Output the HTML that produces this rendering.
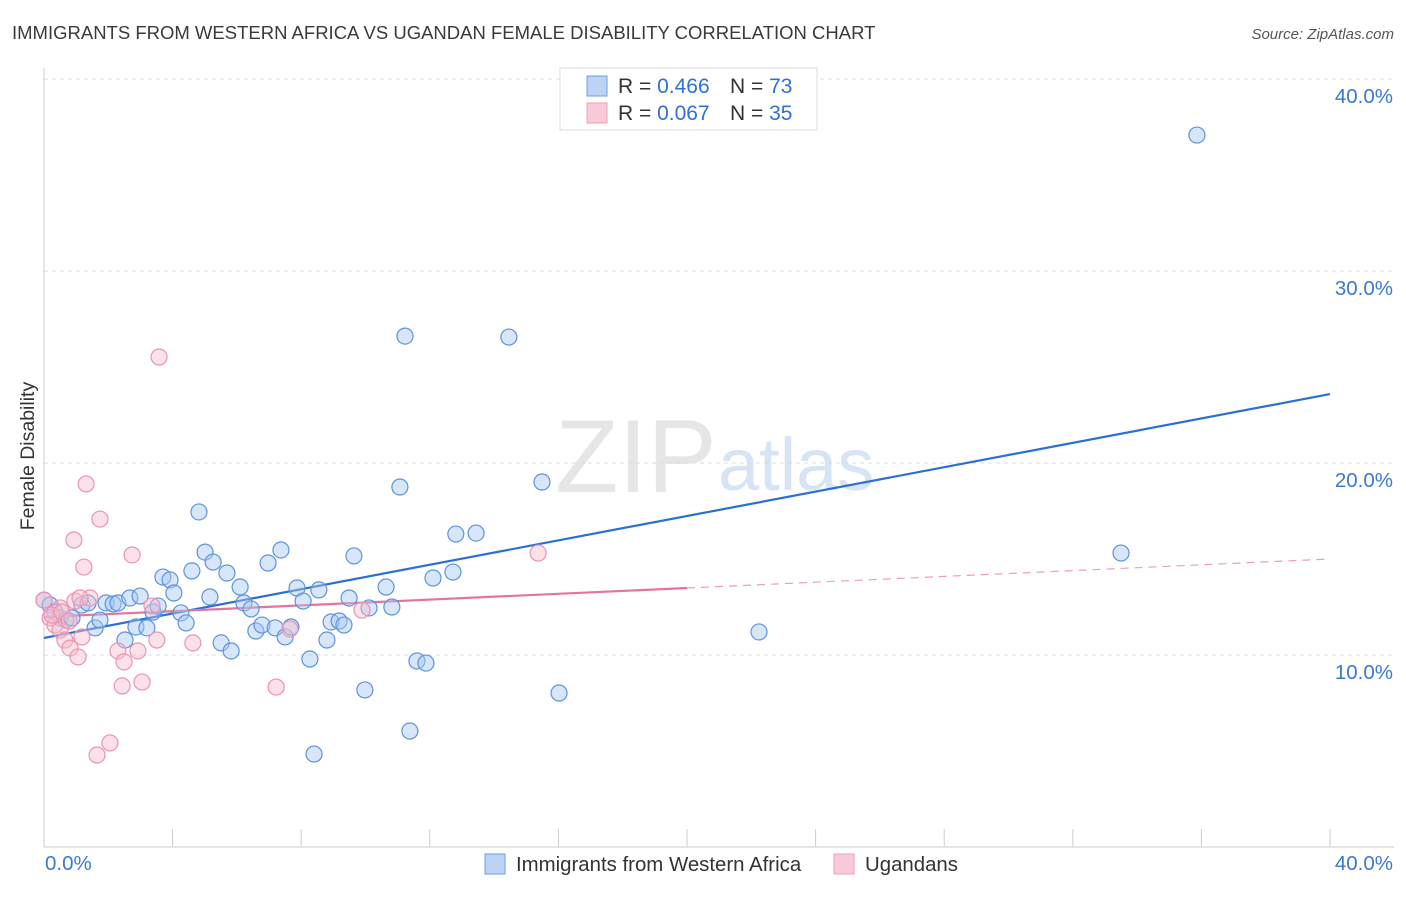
<!DOCTYPE html>
<html><head><meta charset="utf-8"><style>
body{margin:0;background:#fff;font-family:"Liberation Sans",sans-serif}
svg text{font-family:"Liberation Sans",sans-serif}
</style></head><body>
<svg id="chart" width="1406" height="892">
<text x="12" y="39" font-size="18.5" fill="#3a3a3a">IMMIGRANTS FROM WESTERN AFRICA VS UGANDAN FEMALE DISABILITY CORRELATION CHART</text>
<text x="1394" y="39" font-size="15" fill="#555" font-style="italic" text-anchor="end">Source: ZipAtlas.com</text>
<text x="34" y="456" font-size="19.5" fill="#333" transform="rotate(-90 34 456)" text-anchor="middle">Female Disability</text>
<g><text x="555" y="492" font-size="104" fill="#e6e6e6" font-family="Liberation Serif">ZIP</text><text x="718" y="490" font-size="74" fill="#d6e4f5">atlas</text></g>
<g id="grid"></g><g id="axes"></g><g id="lines"></g><g id="pts"></g>
<g>
<rect x="560" y="68" width="257" height="62" fill="#fff" stroke="#ddd"/>
<rect x="587" y="76" width="20" height="20" fill="#bcd4f4" stroke="#6a9fe0"/>
<rect x="587" y="103" width="20" height="20" fill="#f9cad8" stroke="#ee9fb8"/>
<text x="618" y="93" font-size="21" fill="#333">R = <tspan fill="#2f6fd6">0.466</tspan></text>
<text x="730" y="93" font-size="21" fill="#333">N = <tspan fill="#2f6fd6">73</tspan></text>
<text x="618" y="120" font-size="21" fill="#333">R = <tspan fill="#2f6fd6">0.067</tspan></text>
<text x="730" y="120" font-size="21" fill="#333">N = <tspan fill="#2f6fd6">35</tspan></text>
</g>
<g>
<rect x="485" y="854" width="20" height="20" fill="#bcd4f4" stroke="#6a9fe0"/>
<text x="516" y="871" font-size="20.4" fill="#333">Immigrants from Western Africa</text>
<rect x="834" y="854" width="20" height="20" fill="#f9cad8" stroke="#ee9fb8"/>
<text x="865" y="871" font-size="20.4" fill="#333">Ugandans</text>
</g>
</svg>
<script>
const blueX=[0,0.19,0.34,0.5,0.68,0.87,1.18,1.37,1.59,1.74,1.93,2.15,2.3,2.52,2.67,2.86,2.99,3.2,3.39,3.55,3.7,3.92,4.04,4.26,4.42,4.6,4.82,5.01,5.16,5.26,5.51,5.69,5.82,6.1,6.22,6.44,6.59,6.78,6.97,7.19,7.37,7.5,7.68,7.87,8.06,8.27,8.4,8.55,8.8,8.93,9.18,9.33,9.49,9.64,9.98,10.11,10.64,10.82,11.07,11.23,11.38,11.6,11.88,12.1,12.72,12.81,13.44,14.46,15.49,16.02,22.24,33.5,35.86];
const blueY=[12.86,12.6,12.24,11.93,11.82,11.93,12.6,12.71,11.41,11.82,12.71,12.66,12.71,10.78,12.97,11.46,13.07,11.41,12.24,12.55,14.06,13.91,13.23,12.19,11.67,14.38,17.45,15.36,13.02,14.84,10.63,14.27,10.21,13.54,12.71,12.4,11.25,11.56,14.79,11.41,15.47,10.94,11.46,13.49,12.81,9.79,4.84,13.39,10.78,11.72,11.77,11.56,12.97,15.16,8.18,12.45,13.54,12.5,18.75,26.61,6.04,9.69,9.58,14.01,14.32,16.3,16.35,26.56,19.01,8.02,11.2,15.31,37.08];
const pinkX=[0,0.19,0.34,0.5,0.65,0.81,1.06,1.18,1.24,1.31,1.43,1.65,1.74,0.93,2.05,2.3,2.43,2.49,2.74,2.92,3.05,3.36,3.51,3.58,4.63,7.22,7.65,9.89,15.37,0.96,0.5,0.25,1.12,0.56,0.78];
const pinkY=[12.86,11.93,11.56,11.3,10.78,10.36,9.9,10.94,14.58,18.91,12.97,4.79,17.08,15.99,5.42,10.21,8.39,9.64,15.21,10.21,8.59,12.55,10.78,25.52,10.63,8.33,11.35,12.34,15.31,12.81,12.45,12.08,12.97,12.24,11.77];
const blueTrend=[10.89,23.59];
const pinkTrend=[11.98,15.0];
const pinkSolidEnd=20;
const yTicks=[10,20,30,40];
const xTickVals=[0,4,8,12,16,20,24,28,32,36,40];
const NS='http://www.w3.org/2000/svg';
const sx=v=>44+v*32.15, sy=v=>847-v*19.2;
function mk(tag,at,parent){const e=document.createElementNS(NS,tag);for(const k in at)e.setAttribute(k,at[k]);document.getElementById(parent).appendChild(e);return e;}
yTicks.forEach(t=>{const l=mk('line',{x1:44,x2:1394,y1:sy(t),y2:sy(t),stroke:'#ddd','stroke-dasharray':'4,4'},'grid');


const tx=mk('text',{x:1393,y:sy(t)+24,'font-size':20.5,fill:'#3a78d8','text-anchor':'end'},'grid');tx.textContent=t.toFixed(1)+'%';

});
const xa=mk('line',{x1:44,x2:1394,y1:847,y2:847,stroke:'#ccc'},'axes');


const ya=mk('line',{x1:44,x2:44,y1:68,y2:847,stroke:'#ccc'},'axes');


xTickVals.forEach(t=>{const l=mk('line',{x1:sx(t),x2:sx(t),y1:829,y2:847,stroke:'#ccc'},'axes');

});
[[0,'start'],[40,'end']].forEach(([t,a])=>{const tx=mk('text',{x:t==0?45:1393,y:870,'font-size':20.5,fill:'#3a78d8','text-anchor':a},'axes');tx.textContent=t.toFixed(1)+'%';

});
function pts(X,Y,fill,stroke,name){X.forEach((x,i)=>{const c=mk('circle',{cx:sx(x),cy:sy(Y[i]),r:8,fill:fill,'fill-opacity':0.45,stroke:stroke,'stroke-width':1.2},'pts');

});}
pts(blueX,blueY,'#a9c8f2','#5b93dc','blue-point');
pts(pinkX,pinkY,'#f7bccd','#ec93b0','pink-point');
const bl=mk('line',{x1:sx(0),y1:sy(blueTrend[0]),x2:sx(40),y2:sy(blueTrend[1]),stroke:'#2a6fd6','stroke-width':2.2},'lines');


const pm=pinkTrend[0]+(pinkTrend[1]-pinkTrend[0])*pinkSolidEnd/40;
const pl=mk('line',{x1:sx(0),y1:sy(pinkTrend[0]),x2:sx(pinkSolidEnd),y2:sy(pm),stroke:'#e8729a','stroke-width':2.2},'lines');


const pd=mk('line',{x1:sx(pinkSolidEnd),y1:sy(pm),x2:sx(40),y2:sy(pinkTrend[1]),stroke:'#e8a0b8','stroke-width':1.2,'stroke-dasharray':'8,6'},'lines');


</script>
</body></html>
